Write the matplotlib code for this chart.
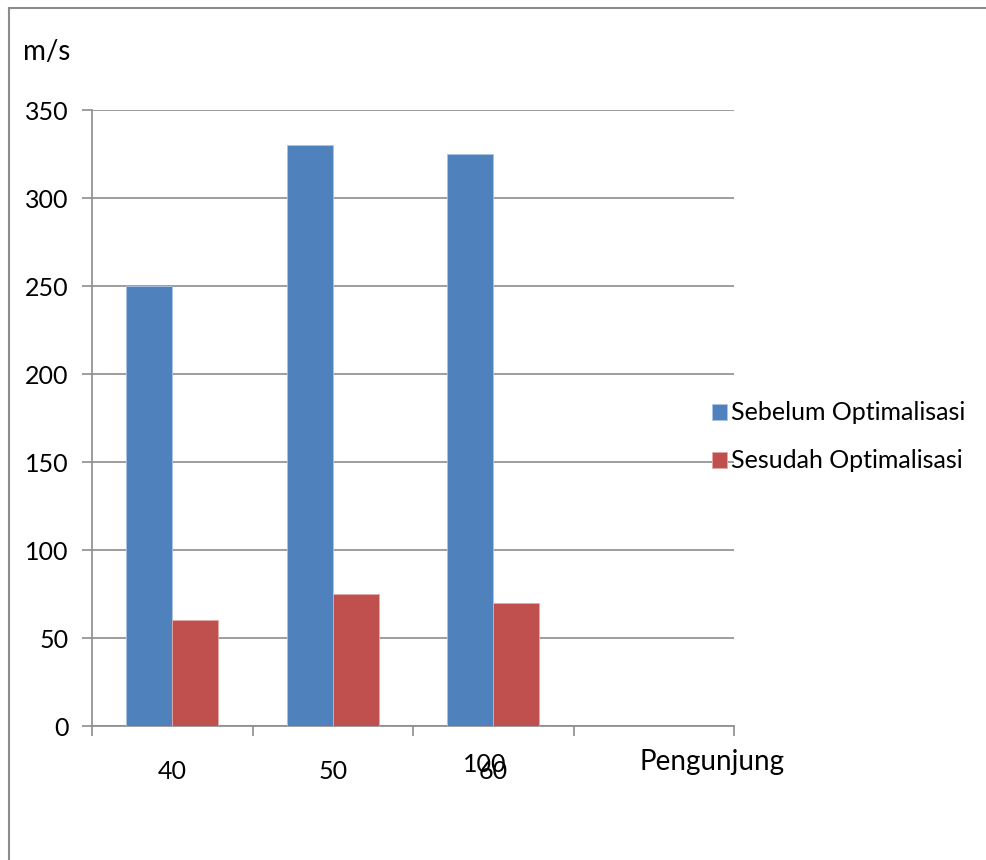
import numpy as np
import matplotlib.pyplot as plt
from matplotlib.lines import Line2D

plt.rcParams['font.family'] = ['Lato', 'DejaVu Sans']

categories = ['40', '50', '60', '']
sebelum = [250, 330, 325, 0]
sesudah = [60, 75, 70, 0]
yticks = [0, 50, 100, 150, 200, 250, 300, 350]

fig = plt.figure(figsize=(9.86, 8.6), dpi=100)
ax = fig.add_axes([92 / 986, 1 - 726 / 860, (734 - 92) / 986, (726 - 110) / 860])

x = np.arange(len(categories))
w = 0.287
ax.bar(x - w / 2, sebelum, w, color='#4f81bd', edgecolor='#a9c4e6', linewidth=0.6,
       label='Sebelum Optimalisasi', zorder=3)
ax.bar(x + w / 2, sesudah, w, color='#c0504d', edgecolor='#e6a9a8', linewidth=0.6,
       label='Sesudah Optimalisasi', zorder=3)

ax.set_xlim(-0.5, 3.5)
ax.set_ylim(0, 350)
ax.set_yticks(yticks)
ax.set_yticklabels([str(v) for v in yticks], fontsize=18)
ax.yaxis.grid(True, color='#8c8c8c', linewidth=1.2, zorder=0)

# boundary ticks, labels at category centres
ax.set_xticks(np.arange(-0.5, 4, 1))
ax.set_xticklabels([])
ax.set_xticks(x, minor=True)
ax.set_xticklabels(categories, minor=True, fontsize=18)
ax.tick_params(axis='x', which='minor', length=0, pad=24.5)
ax.tick_params(axis='x', which='major', length=7, color='#8c8c8c', width=1.2)
ax.tick_params(axis='y', length=7, color='#8c8c8c', width=1.2, pad=10)
ax.text(2 - 0.056, -0.062, '100', transform=ax.get_xaxis_transform(), ha='center',
        va='center', fontsize=18)

for s in ['top', 'right']:
    ax.spines[s].set_visible(False)
for s in ['left', 'bottom']:
    ax.spines[s].set_color('#8c8c8c')
    ax.spines[s].set_linewidth(1.2)

fig.text(23 / 986, 1 - 52 / 860, 'm/s', fontsize=20, va='center', ha='left')
fig.text(640 / 986, 1 - 762 / 860, 'Pengunjung', fontsize=20, va='center', ha='left')

fig.legend(*ax.get_legend_handles_labels(), loc='center left',
           bbox_to_anchor=(712 / 986, 1 - 437 / 860), frameon=False,
           fontsize=18, handlelength=0.6, handleheight=0.6, handletextpad=0.15,
           labelspacing=1.0, borderpad=0, borderaxespad=0)

# outer frame
fig.add_artist(Line2D([9 / 986, 9 / 986], [0, 1 - 8 / 860], color='#8c8c8c', linewidth=1.5))
fig.add_artist(Line2D([9 / 986, 1], [1 - 8 / 860, 1 - 8 / 860], color='#8c8c8c', linewidth=1.5))

fig.savefig('out.png', dpi=100, facecolor='white')
